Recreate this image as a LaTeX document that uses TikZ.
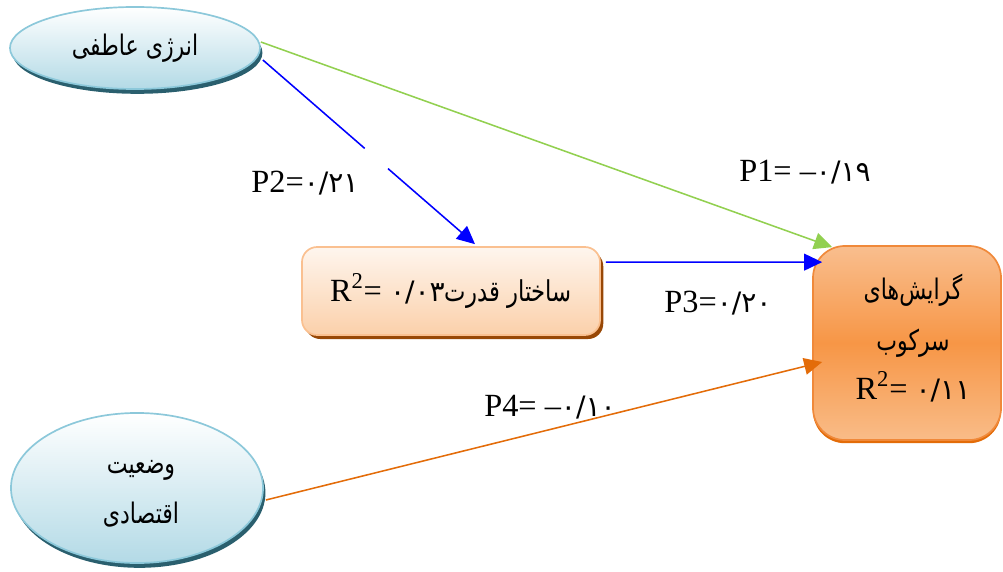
\documentclass[tikz,border=0pt]{standalone}
\usepackage{fontspec}
\usepackage{graphicx}
\setmainfont{Liberation Serif}
\newfontfamily\fa[Script=Arabic]{DejaVu Sans}
\TeXXeTstate=1
\usetikzlibrary{arrows.meta,shadows,calc,shapes.geometric}
\definecolor{elborder}{HTML}{8CC8DA}
\definecolor{elfill}{HTML}{B3DAE6}
\definecolor{elshadow}{HTML}{2A5F6E}
\definecolor{pbborder}{HTML}{FAC090}
\definecolor{pbfill}{HTML}{FBD0AA}
\definecolor{pbshadow}{HTML}{984806}
\definecolor{obtop}{HTML}{F9BE8E}
\definecolor{obmid}{HTML}{F79646}
\definecolor{obbot}{HTML}{F9BC88}
\definecolor{obborder}{HTML}{F0893A}
\definecolor{obshadow}{HTML}{E36C09}
\definecolor{pgreen}{HTML}{92D050}
\definecolor{porange}{HTML}{E36C09}
\tikzset{
  ell/.style={ellipse, draw=elborder, line width=1.2pt, top color=white, bottom color=elfill,
    drop shadow={shadow xshift=0.06cm, shadow yshift=-0.12cm, fill=elshadow, opacity=1},
    align=center, inner sep=0pt},
  pbox/.style={rectangle, rounded corners=0.38cm, draw=pbborder, line width=1.2pt,
    top color=white!80!pbfill, bottom color=pbfill,
    drop shadow={shadow xshift=0.08cm, shadow yshift=-0.1cm, fill=pbshadow, opacity=1},
    minimum width=7.45cm, minimum height=2.2cm, inner sep=0pt},
  obox/.style={rectangle, rounded corners=0.8cm, draw=obborder, line width=1.2pt,
    top color=obtop, bottom color=obbot, middle color=obmid,
    drop shadow={shadow xshift=0cm, shadow yshift=-0.08cm, fill=obshadow, opacity=1},
    minimum width=4.7cm, minimum height=4.85cm, inner sep=0pt},
  conn/.style={line width=1.1pt, -{Triangle[length=0.45cm,width=0.42cm]}},
  lbl/.style={font=\fontsize{23}{28}\selectfont, inner sep=1pt},
}
\newcommand{\pdig}[1]{{\fontsize{20}{28}\fa #1}}
\newcommand{\ptxt}[1]{\scalebox{0.95}[1.22]{\fontsize{16.5}{20}\fa\beginR #1\endR}}
\begin{document}
\begin{tikzpicture}[x=0.025cm,y=-0.025cm]
\useasboundingbox (0,0) rectangle (1003,571);
\node[ell, minimum width=6.25cm, minimum height=2.05cm] (e1) at (135,48)
  {\ptxt{انرژی عاطفی}};
\node[ell, minimum width=6.3cm, minimum height=3.75cm] (e2) at (137,488) {};
\node[align=center] (e2t) at (141,494) {\ptxt{وضعیت}\\[14pt]\ptxt{اقتصادی}};
\node[pbox] (b1) at (451,291)
  {\fontsize{23}{28}\selectfont R\textsuperscript{2}= \pdig{۰/۰۳}\scalebox{0.95}[1.2]{\fontsize{17}{28}\fa\beginR ساختار قدرت\endR}};
\node[obox] (b2) at (907,343) {};
\node[align=center] (b2t) at (913,338)
  {\ptxt{گرایش‌های}\\[15pt]\ptxt{سرکوب}\\[9pt]
   {\fontsize{23}{28}\selectfont R\textsuperscript{2}= \pdig{۰/۱۱}}};
% connectors
\coordinate (s2) at ($(e1.east)+(2,12)$);
\coordinate (t2) at ($(b1.north)+(24,-2)$);
\draw[conn, pgreen] ($(e1.east)+(0,-6)$) -- ($(b2.north west)+(20,2)$);
\draw[line width=1.1pt, blue] (s2) -- ($(s2)!0.48!(t2)$);
\draw[conn, blue] ($(s2)!0.59!(t2)$) -- (t2);
\draw[conn, blue] ($(b1.north east)+(5,16)$) -- ($(b2.north west)+(10,17)$);
\draw[conn, porange] ($(e2.east)+(2,12)$) -- ($(b2.west)+(10,19)$);
% labels
\node[lbl] (p2) at (305,183) {P2=\pdig{۰/۲۱}};
\node[lbl] (p1) at (805,172) {P1= –\pdig{۰/۱۹}};
\node[lbl] (p3) at (718,303) {P3=\pdig{۰/۲۰}};
\node[lbl] (p4) at (550,407) {P4= –\pdig{۰/۱۰}};
\end{tikzpicture}
\end{document}
